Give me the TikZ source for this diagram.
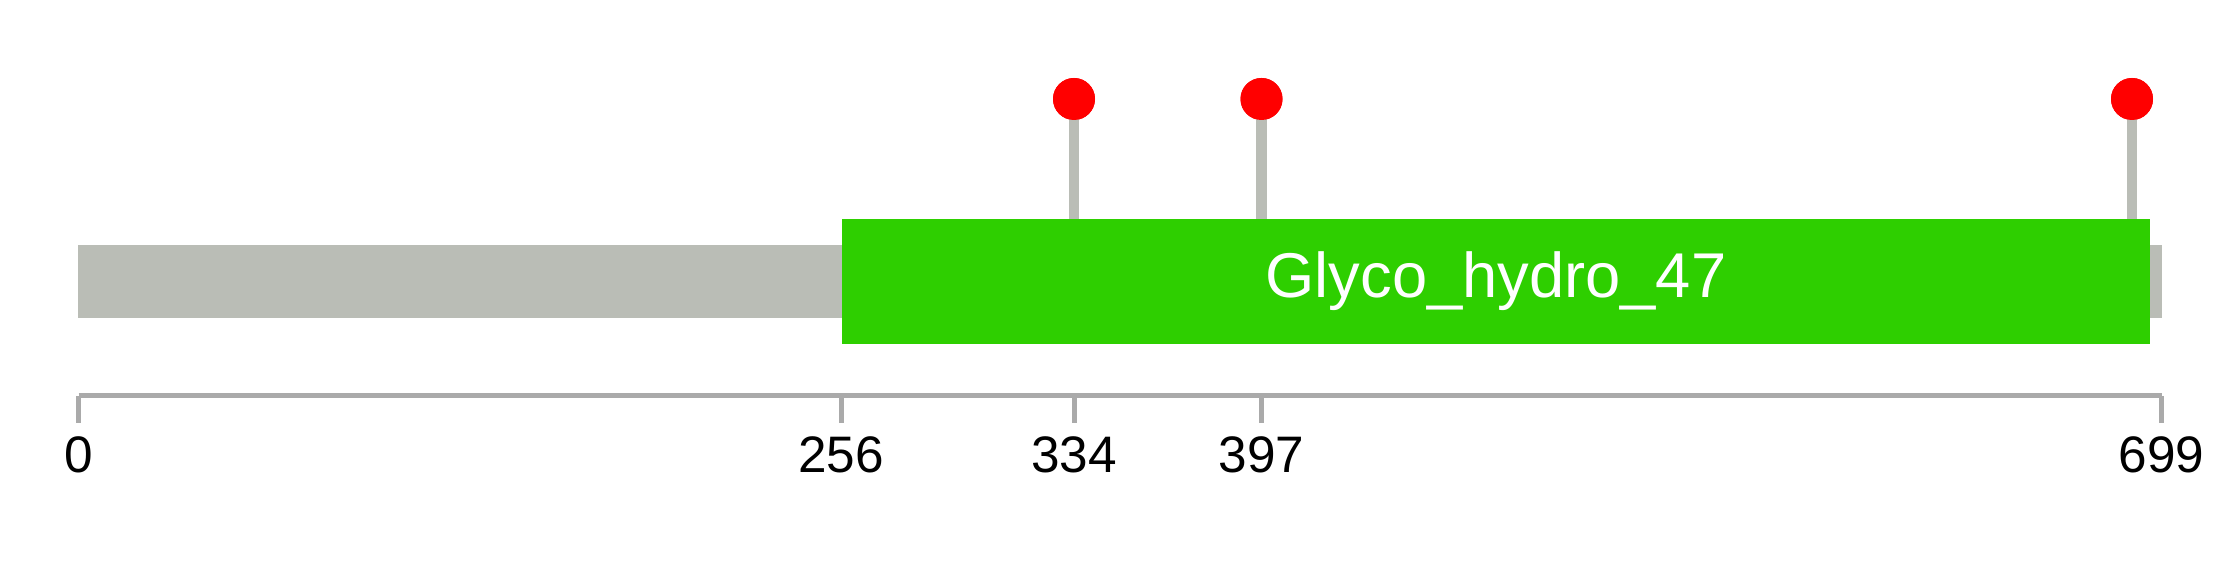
\documentclass[tikz,border=0pt]{standalone}
\usepackage{fontspec}
\setmainfont{Liberation Sans}
\usepackage{tikz}
\usetikzlibrary{positioning,calc}
\definecolor{chainGray}{HTML}{BABDB6}
\definecolor{domGreen}{HTML}{2ECF00}
\definecolor{axisGray}{HTML}{AAAAAA}
\definecolor{siteRed}{HTML}{FF0000}

\begin{document}
\begin{tikzpicture}[
  chain/.style={fill=chainGray, draw=none, inner sep=0pt, minimum width=20.84cm, minimum height=0.73cm},
  dom/.style={fill=domGreen, draw=none, inner sep=0pt, minimum width=13.08cm, minimum height=1.25cm,
    text=white, font=\fontsize{18}{20}\selectfont},
  stem/.style={draw=chainGray, line width=0.107cm},
  head/.style={circle, fill=siteRed, draw=none, inner sep=0pt, minimum size=0.42cm},
  axisline/.style={draw=axisGray, line width=0.05cm},
  tickmark/.style={draw=axisGray, line width=0.05cm},
  poslbl/.style={anchor=base, inner sep=0pt, font=\fontsize{14.6}{16}\selectfont}
]
\useasboundingbox (0,0) rectangle (22.39,-5.78);
% protein chain and domain
\node[chain] (seq) at (11.20,-2.815) {};
\node[dom] (glyco) at (14.96,-2.815) {Glyco\_hydro\_47};
% sites
\foreach \x/\n in {10.74/a, 12.615/b, 21.32/c}{
  \node[head] (h\n) at (\x,-0.99) {};
  \coordinate (s\n) at (\x,-2.19);
  \draw[stem] (h\n.center) -- (s\n);
  \node[head] at (h\n) {};
}
% scale
\coordinate (ax0) at (0.785,-3.96);
\coordinate (ax1) at (21.615,-3.96);
\draw[axisline] (ax0) -- (ax1);
\foreach \x/\r in {0.785/0, 8.41/256, 10.74/334, 12.615/397, 21.615/699}{
  \coordinate (t\r) at (\x,-3.96);
  \coordinate (b\r) at (\x,-4.23);
  \draw[tickmark] (t\r) -- (b\r);
  \node[poslbl] (l\r) at (\x,-4.73) {\r};
}
\end{tikzpicture}
\end{document}
